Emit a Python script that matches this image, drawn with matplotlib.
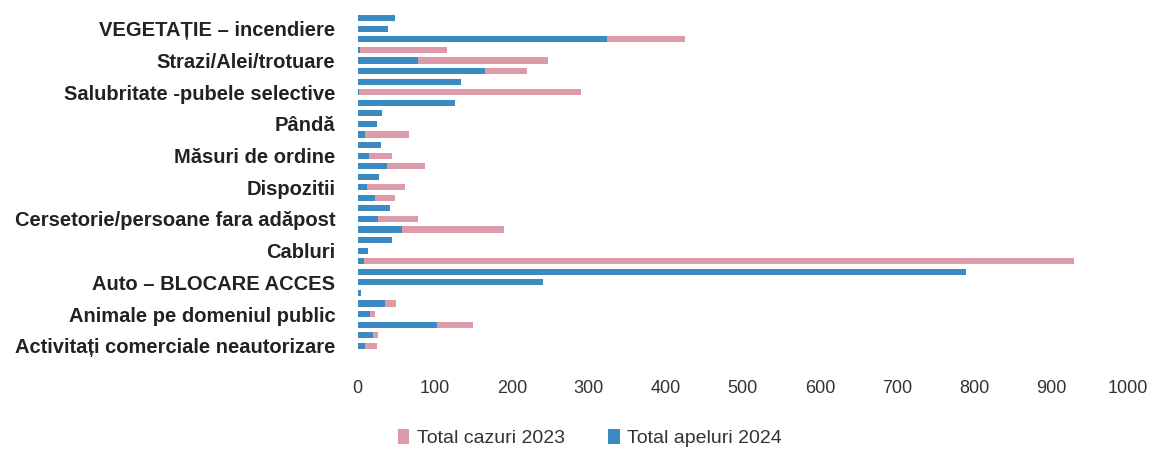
import numpy as np
import matplotlib
matplotlib.use("Agg")
import matplotlib.pyplot as plt

# categories top to bottom; only every third one carries a label in the original
labels = ["VEGETAȚIE – incendiere", "Strazi/Alei/trotuare", "Salubritate -pubele selective",
          "Pândă", "Măsuri de ordine", "Dispozitii", "Cersetorie/persoane fara adăpost",
          "Cabluri", "Auto – BLOCARE ACCES", "Animale pe domeniul public",
          "Activitați comerciale neautorizare"]
label_rows = [1, 4, 7, 10, 13, 16, 19, 22, 25, 28, 31]

cazuri_2023 = [40, 30, 425, 116, 247, 220, 50, 290, 95, 20, 15, 67, 20, 45, 87, 25,
               61, 48, 30, 78, 190, 35, 10, 930, 205, 20, 0, 50, 22, 150, 26, 25]
apeluri_2024 = [49, 39, 323, 3, 78, 165, 134, 2, 126, 32, 25, 10, 30, 15, 38, 28,
                12, 23, 42, 26, 58, 44, 13, 8, 790, 240, 4, 36, 16, 103, 20, 10]

pink = "#dd9aa8"
blue = "#3b8bc2"

plt.rcParams['font.family'] = ['Liberation Sans', 'DejaVu Sans']

fig = plt.figure(figsize=(11.5, 4.55), dpi=100)
ax = fig.add_axes([0.311, 0.226, 0.67, 0.748])

rows = np.arange(len(cazuri_2023))
ax.barh(rows, cazuri_2023, height=0.58, color=pink, zorder=2, label="Total cazuri 2023")
ax.barh(rows, apeluri_2024, height=0.58, color=blue, zorder=3, label="Total apeluri 2024")

ax.set_xlim(0, 1000)
ax.set_ylim(len(rows) - 0.4, -0.6)
ax.set_xticks(np.arange(0, 1001, 100))
ax.set_yticks(label_rows)
ax.set_yticklabels(labels, fontsize=14.5, fontweight='bold', color='#222222')
ax.tick_params(axis='x', length=0, pad=20, labelsize=13, labelcolor='#333333')
ax.tick_params(axis='y', length=0, pad=16)
for s in ax.spines.values():
    s.set_visible(False)

fig.legend(loc='center', bbox_to_anchor=(590 / 1150, 1 - 438 / 455), ncol=2, frameon=False,
           fontsize=14, handlelength=0.6, handleheight=0.8, columnspacing=2.2,
           handletextpad=0.4, labelcolor='#333333')

fig.savefig("out.png", dpi=100)
